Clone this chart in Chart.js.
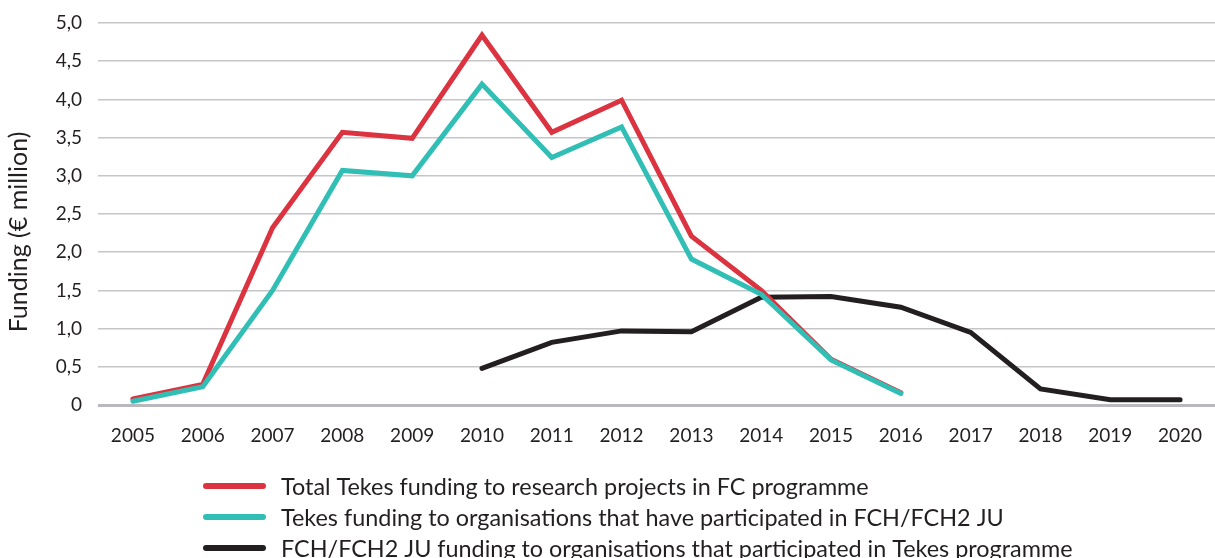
<!DOCTYPE html>
<html>
<head>
<meta charset="utf-8">
<script src="https://cdn.jsdelivr.net/npm/chart.js@4/dist/chart.umd.min.js"></script>
<style>
  html, body { margin: 0; padding: 0; background: #ffffff; }
  #wrap { width: 1215px; height: 558px; position: relative; }
</style>
</head>
<body>
<div id="wrap"><canvas id="c" width="1215" height="558"></canvas></div>
<script>
const years = ['2005','2006','2007','2008','2009','2010','2011','2012','2013','2014','2015','2016','2017','2018','2019','2020'];
const totalTekes = [0.08, 0.27, 2.32, 3.57, 3.49, 4.84, 3.57, 3.99, 2.21, 1.50, 0.60, 0.16, null, null, null, null];
const tekesToFch = [0.05, 0.24, 1.50, 3.07, 3.00, 4.20, 3.24, 3.64, 1.91, 1.45, 0.59, 0.15, null, null, null, null];
const fchToTekes = [null, null, null, null, null, 0.48, 0.82, 0.97, 0.96, 1.41, 1.42, 1.28, 0.95, 0.21, 0.07, 0.07];
const seriesLabels = [
  'Total Tekes funding to research projects in FC programme',
  'Tekes funding to organisations that have participated in FCH/FCH2 JU',
  'FCH/FCH2 JU funding to organisations that participated in Tekes programme'
];
const yTickLabels = {0: '0', 0.5: '0,5', 1: '1,0', 1.5: '1,5', 2: '2,0', 2.5: '2,5', 3: '3,0', 3.5: '3,5', 4: '4,0', 4.5: '4,5', 5: '5,0'};
const yAxisTitle = 'Funding (€ million)';

const colors = ['#dc3340', '#31bfb5', '#231f20'];
const FONT = 'Lato, "Open Sans", sans-serif';
const TXT = '#231f20';

const legendPlugin = {
  id: 'customLegend',
  afterDraw(chart) {
    const ctx = chart.ctx;
    ctx.save();
    const x0 = 203, x1 = 266, tx = 281;
    const ys = [486, 517, 548];
    chart.data.datasets.forEach((ds, i) => {
      ctx.strokeStyle = ds.borderColor;
      ctx.lineWidth = 6;
      ctx.lineCap = 'round';
      ctx.beginPath();
      ctx.moveTo(x0 + 3, ys[i]);
      ctx.lineTo(x1 - 3, ys[i]);
      ctx.stroke();
      ctx.fillStyle = TXT;
      ctx.font = '23.4px ' + FONT;
      ctx.textBaseline = 'middle';
      ctx.textAlign = 'left';
      ctx.fillText(ds.label, tx, ys[i] + 1);
    });
    // y axis title
    ctx.translate(19, 232);
    ctx.rotate(-Math.PI / 2);
    ctx.font = '25px ' + FONT;
    ctx.textAlign = 'center';
    ctx.textBaseline = 'middle';
    ctx.fillText(yAxisTitle, 0, 0);
    ctx.restore();
  }
};

const ds = (label, data, color, order) => ({
  label, data, borderColor: color, backgroundColor: color,
  borderWidth: 5, pointRadius: 0, pointHoverRadius: 0, tension: 0,
  borderCapStyle: 'round', borderJoinStyle: 'miter', spanGaps: false, order, fill: false
});

new Chart(document.getElementById('c'), {
  type: 'line',
  data: {
    labels: years,
    datasets: [
      ds(seriesLabels[0], totalTekes, colors[0], 2),
      ds(seriesLabels[1], tekesToFch, colors[1], 1),
      ds(seriesLabels[2], fchToTekes, colors[2], 3)
    ]
  },
  plugins: [legendPlugin],
  options: {
    responsive: false,
    animation: false,
    devicePixelRatio: 1,
    layout: { padding: { top: 23, right: 0, bottom: 0, left: 0 } },
    plugins: { legend: { display: false }, tooltip: { enabled: false } },
    scales: {
      x: {
        offset: true,
        grid: { display: false, drawTicks: false },
        border: { display: false },
        ticks: { color: TXT, font: { family: FONT, size: 19 }, padding: 19, maxRotation: 0, autoSkip: false },
        afterFit(s) { s.height = 153; s.paddingLeft = 0; s.paddingRight = 0; }
      },
      y: {
        min: 0, max: 5,
        grid: {
          drawTicks: false,
          color: (c) => c.tick && c.tick.value === 0 ? '#b9b9bd' : '#c6c6c9',
          lineWidth: (c) => c.tick && c.tick.value === 0 ? 3 : 1.6
        },
        border: { display: false },
        ticks: {
          stepSize: 0.5, color: TXT, font: { family: FONT, size: 19 }, padding: 16,
          callback: (v) => yTickLabels[v] !== undefined ? yTickLabels[v] : ''
        },
        title: { display: false },
        afterFit(s) { s.width = 98; s.paddingTop = 0; s.paddingBottom = 0; }
      }
    }
  }
});
</script>
</body>
</html>
